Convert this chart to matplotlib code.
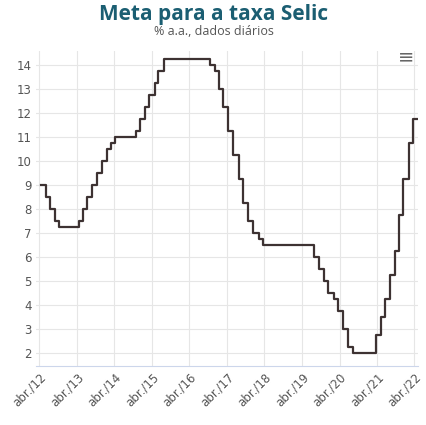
import matplotlib
matplotlib.use("Agg")
import matplotlib.pyplot as plt
import pandas as pd

# Copom decision dates and Selic target (% a.a.)
dates = ["2012-04-19", "2012-05-31", "2012-07-12", "2012-08-30", "2012-10-11",
         "2013-04-18", "2013-05-30", "2013-07-11", "2013-08-29", "2013-10-10", "2013-11-28",
         "2014-01-16", "2014-02-27", "2014-04-03", "2014-10-30", "2014-12-04",
         "2015-01-22", "2015-03-05", "2015-04-30", "2015-06-04", "2015-07-30",
         "2016-10-20", "2016-12-01",
         "2017-01-12", "2017-02-23", "2017-04-13", "2017-06-01", "2017-07-27", "2017-09-07",
         "2017-10-26", "2017-12-07",
         "2018-02-08", "2018-03-22",
         "2019-08-01", "2019-09-19", "2019-10-31", "2019-12-12",
         "2020-02-06", "2020-03-19", "2020-05-07", "2020-06-18", "2020-08-06",
         "2021-03-18", "2021-05-06", "2021-06-17", "2021-08-05", "2021-09-23", "2021-10-28",
         "2021-12-09", "2022-02-03", "2022-03-17", "2022-05-10"]
selic = [9.00, 8.50, 8.00, 7.50, 7.25,
         7.50, 8.00, 8.50, 9.00, 9.50, 10.00,
         10.50, 10.75, 11.00, 11.25, 11.75,
         12.25, 12.75, 13.25, 13.75, 14.25,
         14.00, 13.75,
         13.00, 12.25, 11.25, 10.25, 9.25, 8.25,
         7.50, 7.00,
         6.75, 6.50,
         6.00, 5.50, 5.00, 4.50,
         4.25, 3.75, 3.00, 2.25, 2.00,
         2.75, 3.50, 4.25, 5.25, 6.25, 7.75,
         9.25, 10.75, 11.75, 11.75]

x = pd.to_datetime(dates)
tick_dates = pd.to_datetime([f"20{yy}-04-01" for yy in range(12, 23)])
tick_labels = [f"abr./{yy}" for yy in range(12, 23)]

fig = plt.figure(figsize=(4.27, 4.25), dpi=100)
ax = fig.add_axes([0.085, 0.14, 0.895, 0.74])
ax.step(x, selic, where="post", color="#3d3232", lw=1.6)

ax.set_xlim(pd.Timestamp("2012-03-01"), pd.Timestamp("2022-05-10"))
ax.set_ylim(1.5, 14.6)
ax.set_yticks(range(2, 15))
ax.set_xticks(tick_dates)
ax.set_xticklabels(tick_labels, rotation=45, ha="right", rotation_mode="anchor")
ax.tick_params(labelsize=8.5, colors="#555555", length=0)
ax.grid(True, color="#e6e6e6", lw=0.8)
for s in ax.spines.values():
    s.set_visible(False)
ax.spines["bottom"].set_visible(True)
ax.spines["bottom"].set_color("#ccd6eb")

fig.text(0.5, 0.965, "Meta para a taxa Selic", ha="center", va="center",
         fontsize=15, color="#1b5e72", family="Open Sans", weight="bold")
fig.text(0.5, 0.925, "% a.a., dados diários", ha="center", va="center",
         fontsize=9, color="#555555", family="Open Sans")
fig.text(0.95, 0.865, "≡", ha="center", va="center", fontsize=14, color="#666666")

fig.savefig("out.png", dpi=100)
